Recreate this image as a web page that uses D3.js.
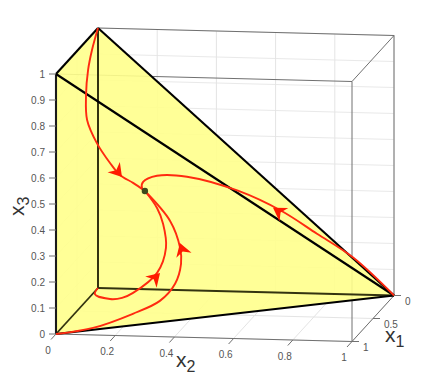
<!DOCTYPE html>
<html>
<head>
<meta charset="utf-8">
<script src="https://cdn.jsdelivr.net/npm/d3@7"></script>
<style>
  html, body { margin: 0; padding: 0; background: #fff; }
  svg { display: block; }
  text { font-family: "Liberation Sans", Arial, sans-serif; }
</style>
</head>
<body>
<svg id="chart" width="436" height="382"></svg>
<script>
const X1_TICKS = [0, 0.5, 1];
const X2_TICKS = [0, 0.2, 0.4, 0.6, 0.8, 1];
const X3_TICKS = [0, 0.1, 0.2, 0.3, 0.4, 0.5, 0.6, 0.7, 0.8, 0.9, 1];

// pyramid corners [x1, x2, x3]
const CORNER_A = [1, 0, 0];
const CORNER_B = [0, 0, 0];
const CORNER_C = [0, 1, 0];
const CORNER_D = [1, 0, 1];
const CORNER_E = [0, 0, 1];

const EQUILIBRIUM = [0.30, 0.201, 0.432];

// trajectories, all of them end in the equilibrium
const TRAJ_FROM_E = [
  [0, 0, 1], [0.15, 0.001, 0.942], [0.25, 0.002, 0.883], [0.32, 0.005, 0.799],
  [0.33, 0.01, 0.705], [0.33, 0.043, 0.617], [0.32, 0.086, 0.54],
  [0.31, 0.118, 0.493], [0.30, 0.161, 0.462], [0.30, 0.201, 0.432]
];
const TRAJ_FROM_C = [
  [0, 1, 0], [0.05, 0.869, 0.151], [0.10, 0.754, 0.248], [0.15, 0.640, 0.342],
  [0.20, 0.501, 0.424], [0.25, 0.336, 0.482], [0.28, 0.239, 0.488],
  [0.30, 0.195, 0.467], [0.30, 0.191, 0.444], [0.30, 0.201, 0.432]
];
const TRAJ_FROM_B = [
  [0, 0, 0], [0.13, 0.008, 0], [0.25, 0.076, 0.004], [0.28, 0.121, 0.015],
  [0.30, 0.161, 0.039], [0.32, 0.245, 0.122], [0.32, 0.275, 0.219], [0.31, 0.264, 0.309],
  [0.30, 0.242, 0.368], [0.30, 0.201, 0.432]
];
const TRAJ_FROM_A = [
  [1, 0, 0], [0.85, 0.104, 0], [0.65, 0.21, 0.022], [0.50, 0.28, 0.047],
  [0.42, 0.32, 0.1], [0.37, 0.333, 0.168], [0.35, 0.327, 0.226], [0.32, 0.289, 0.323],
  [0.30, 0.201, 0.432]
];

// arrowheads: [tail, tip]
const ARROWS = [
  [[0.32, 0.098, 0.525], [0.31, 0.125, 0.485]],
  [[0.31, 0.228, 0.09], [0.32, 0.255, 0.122]],
  [[0.35, 0.335, 0.215], [0.34, 0.325, 0.243]],
  [[0.15, 0.638, 0.335], [0.16, 0.614, 0.355]]
];

const svg = d3.select('#chart');

// axonometric view: each axis moves a point along its own direction
const x1ToX = d3.scaleLinear().domain([0, 1]).range([0, -42]);
const x1ToY = d3.scaleLinear().domain([0, 1]).range([0, 46]);
const x2ToX = d3.scaleLinear().domain([0, 1]).range([0, 296]);
const x2ToY = d3.scaleLinear().domain([0, 1]).range([0, 7.5]);
const x3ToY = d3.scaleLinear().domain([0, 1]).range([0, -260]);

function project(p) {
  return [98 + x1ToX(p[0]) + x2ToX(p[1]), 288 + x1ToY(p[0]) + x2ToY(p[1]) + x3ToY(p[2])];
}

const straight = d3.line();
const smooth = d3.line().curve(d3.curveCatmullRom.alpha(0.5));

function seg(group, a, b, color, width) {
  group.append('path')
    .attr('d', straight([project(a), project(b)]))
    .attr('fill', 'none')
    .attr('stroke', color)
    .attr('stroke-width', width);
}

// 그리드
const grid = svg.append('g');
X3_TICKS.forEach(t => {
  seg(grid, [0, 0, t], [0, 1, t], '#e9e9e9', 1);
  seg(grid, [1, 0, t], [0, 0, t], '#e9e9e9', 1);
});
X2_TICKS.forEach(t => {
  seg(grid, [0, t, 0], [0, t, 1], '#e4e4e4', 1);
  seg(grid, [1, t, 0], [0, t, 0], '#e4e4e4', 1);
});
X1_TICKS.forEach(t => {
  seg(grid, [t, 0, 0], [t, 1, 0], '#e4e4e4', 1);
  seg(grid, [t, 0, 0], [t, 0, 1], '#e4e4e4', 1);
});

// 박스
const box = svg.append('g');
const BOX_COLOR = '#707070';
seg(box, [1, 0, 1], [1, 1, 1], BOX_COLOR, 1);
seg(box, [0, 0, 1], [0, 1, 1], BOX_COLOR, 1);
seg(box, [1, 1, 0], [1, 1, 1], BOX_COLOR, 1);
seg(box, [0, 1, 0], [0, 1, 1], BOX_COLOR, 1);
seg(box, [1, 1, 1], [0, 1, 1], BOX_COLOR, 1);
seg(box, [1, 0, 0], [1, 1, 0], BOX_COLOR, 1);
seg(box, [1, 1, 0], [0, 1, 0], BOX_COLOR, 1);

// 면
svg.append('path')
  .attr('d', straight([CORNER_D, CORNER_E, CORNER_C, CORNER_A].map(project)) + 'Z')
  .attr('fill', '#ffff8c')
  .attr('fill-opacity', 0.9);

// 뒤쪽 모서리
const edges = svg.append('g');
seg(edges, CORNER_B, CORNER_E, '#333310', 2);
seg(edges, CORNER_B, CORNER_A, '#333310', 1.8);
seg(edges, CORNER_B, CORNER_C, '#333310', 2);
// 앞쪽 모서리
seg(edges, CORNER_A, CORNER_D, '#1a1a1a', 2.1);
seg(edges, CORNER_D, CORNER_E, '#000', 2.1);
seg(edges, CORNER_E, CORNER_C, '#000', 2.1);
seg(edges, CORNER_D, CORNER_C, '#000', 2.1);
seg(edges, CORNER_A, CORNER_C, '#000', 2.1);

// 눈금
const ticks = svg.append('g');
const tickFill = '#555';

X3_TICKS.forEach(t => {
  const [x, y] = project([1, 0, t]);
  ticks.append('path').attr('d', straight([[x - 7, y], [x, y]]))
    .attr('stroke', BOX_COLOR).attr('stroke-width', 1);
  ticks.append('text').attr('x', x - 11).attr('y', y + 3.5)
    .attr('text-anchor', 'end').attr('font-size', 10).attr('fill', tickFill)
    .text(t);
});

X2_TICKS.forEach(t => {
  const [x, y] = project([1, t, 0]);
  ticks.append('path').attr('d', straight([[x, y], [x - 5, y + 5.5]]))
    .attr('stroke', BOX_COLOR).attr('stroke-width', 1);
  ticks.append('text').attr('x', x - 8).attr('y', y + 19.5)
    .attr('text-anchor', 'middle').attr('font-size', 10).attr('fill', tickFill)
    .text(t);
});

X1_TICKS.forEach(t => {
  const [x, y] = project([t, 1, 0]);
  ticks.append('path').attr('d', straight([[x, y], [x + 7, y]]))
    .attr('stroke', BOX_COLOR).attr('stroke-width', 1);
  ticks.append('text').attr('x', x + 11).attr('y', y + 9.5)
    .attr('text-anchor', 'start').attr('font-size', 10).attr('fill', tickFill)
    .text(t);
});

// 축 제목
function axisTitle(x, y, main, sub, rotate) {
  const t = svg.append('text')
    .attr('transform', `translate(${x},${y}) rotate(${rotate})`)
    .attr('font-size', 21).attr('fill', '#333');
  t.append('tspan').text(main);
  t.append('tspan').attr('dy', 5).attr('font-size', 16).text(sub);
}
axisTitle(24, 216, 'x', '3', -90);
axisTitle(176, 367, 'x', '2', 0);
axisTitle(385, 342, 'x', '1', 0);

// 궤적
const trajectories = svg.append('g');
[TRAJ_FROM_E, TRAJ_FROM_C, TRAJ_FROM_B, TRAJ_FROM_A].forEach(traj => {
  trajectories.append('path')
    .attr('d', smooth(traj.map(project)))
    .attr('fill', 'none')
    .attr('stroke', '#ff2a10')
    .attr('stroke-width', 1.9);
});

// 화살표
ARROWS.forEach(arrow => {
  const [tx, ty] = project(arrow[0]);
  const [hx, hy] = project(arrow[1]);
  const angle = Math.atan2(hy - ty, hx - tx) * 180 / Math.PI;
  svg.append('path')
    .attr('d', 'M0,0L-13,-8L-9,0L-13,8Z')
    .attr('transform', `translate(${hx},${hy}) rotate(${angle})`)
    .attr('fill', '#ff1a00');
});

// 평형점
const [eqX, eqY] = project(EQUILIBRIUM);
svg.append('circle')
  .attr('cx', eqX).attr('cy', eqY).attr('r', 3.2)
  .attr('fill', '#3d4a1c');
</script>
</body>
</html>
